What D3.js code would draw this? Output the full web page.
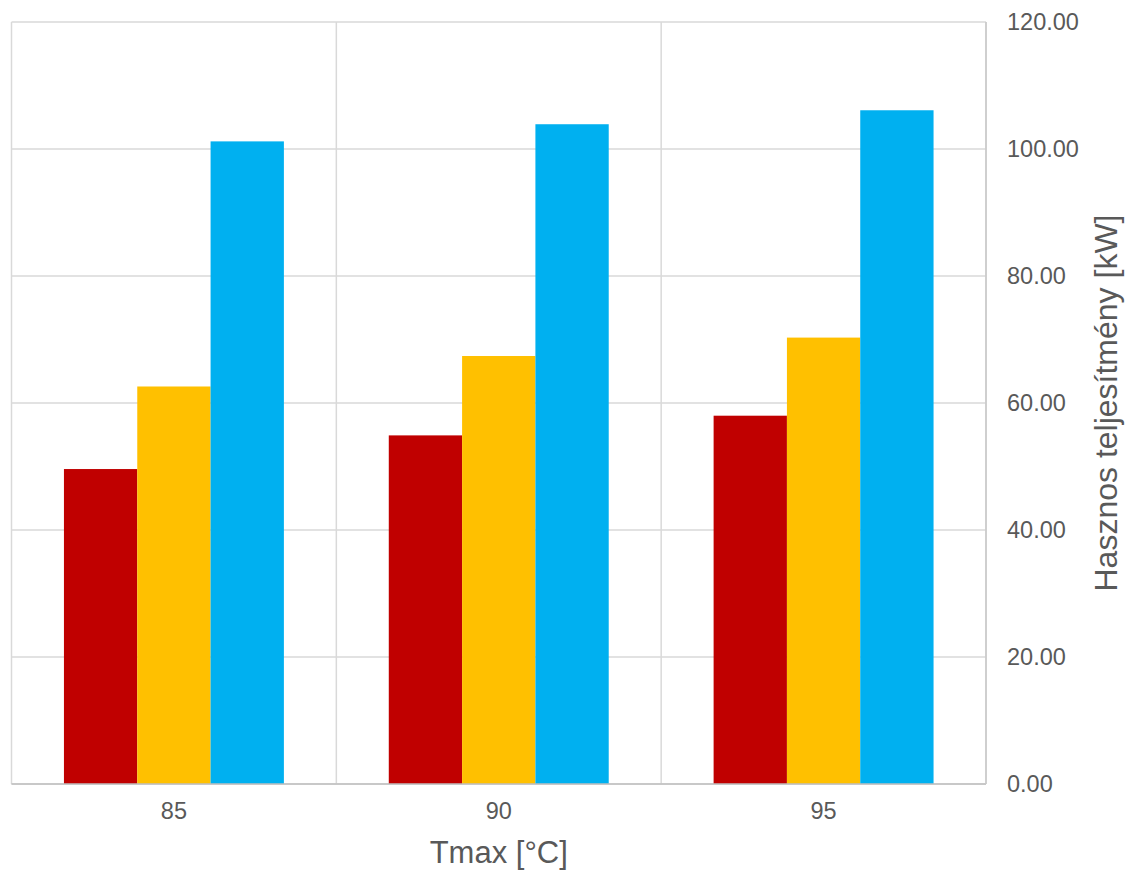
<!DOCTYPE html>
<html>
<head>
<meta charset="utf-8">
<script src="https://cdn.jsdelivr.net/npm/d3@7"></script>
<style>
  body { margin: 0; background: #fff; }
  text { font-family: "Liberation Sans", Arial, sans-serif; fill: #595959; }
</style>
</head>
<body>
<svg id="chart" width="1127" height="871"></svg>
<script>
// categories and series
const categories = ["85", "90", "95"];
const seriesRed = [49.6, 54.9, 58.0];
const seriesYellow = [62.6, 67.4, 70.3];
const seriesBlue = [101.2, 103.9, 106.1];
const yTicks = [0, 20, 40, 60, 80, 100, 120];
const xTitle = "Tmax [°C]";
const yTitle = "Hasznos teljesítmény [kW]";

const colors = ["#C00000", "#FFC000", "#00B0F0"];
const series = [seriesRed, seriesYellow, seriesBlue];

const svg = d3.select("#chart");
const margin = { top: 22, right: 141, bottom: 87, left: 11.5 };
const width = 1127 - margin.left - margin.right;
const height = 871 - margin.top - margin.bottom;

const g = svg.append("g")
  .attr("transform", `translate(${margin.left},${margin.top})`);

const x = d3.scaleBand().domain(categories).range([0, width]);

// bar width relative to the band (Excel-like gap width)
const barW = x.bandwidth() * 0.2257;
const x1 = d3.scaleBand()
  .domain([0, 1, 2])
  .range([(x.bandwidth() - barW * 3) / 2, (x.bandwidth() + barW * 3) / 2]);

const y = d3.scaleLinear().domain([0, 120]).range([height, 0]);

// horizontal gridlines
g.selectAll(".hgrid")
  .data(yTicks)
  .enter()
  .append("line")
  .attr("x1", 0)
  .attr("x2", width)
  .attr("y1", (d) => y(d))
  .attr("y2", (d) => y(d))
  .style("stroke", "#D9D9D9")
  .style("stroke-width", 1.5);

// vertical gridlines at category boundaries
g.selectAll(".vgrid")
  .data(categories.map((c) => x(c)).concat([width]))
  .enter()
  .append("line")
  .attr("x1", (d) => d)
  .attr("x2", (d) => d)
  .attr("y1", 0)
  .attr("y2", height)
  .style("stroke", "#D9D9D9")
  .style("stroke-width", 1.5);

// bars
series.forEach((vals, si) => {
  g.selectAll(".bar" + si)
    .data(vals)
    .enter()
    .append("rect")
    .attr("x", (d, i) => x(categories[i]) + x1(si))
    .attr("y", (d) => y(d))
    .attr("width", barW)
    .attr("height", (d) => y(0) - y(d))
    .style("fill", colors[si]);
});

// bottom axis line and right axis line
g.append("line")
  .attr("x1", 0).attr("x2", width)
  .attr("y1", height).attr("y2", height)
  .style("stroke", "#BFBFBF").style("stroke-width", 1.5);
g.append("line")
  .attr("x1", width).attr("x2", width)
  .attr("y1", 0).attr("y2", height)
  .style("stroke", "#C8C8C8").style("stroke-width", 1.5);

// y axis on the right
const yAxis = d3.axisRight(y)
  .tickValues(yTicks)
  .tickSize(0)
  .tickPadding(21)
  .tickFormat((d) => d3.format(".2f")(d));
const ya = g.append("g")
  .attr("transform", `translate(${width},0)`)
  .call(yAxis);
ya.select(".domain").remove();
ya.selectAll("text")
  .style("font-size", "23.5px")
  .style("fill", "#595959")
  .style("font-family", "Liberation Sans, Arial, sans-serif");

// x axis
const xAxis = d3.axisBottom(x).tickSize(0).tickPadding(18);
const xa = g.append("g")
  .attr("transform", `translate(0,${height})`)
  .call(xAxis);
xa.select(".domain").remove();
xa.selectAll("text")
  .style("font-size", "23.5px")
  .style("fill", "#595959")
  .style("font-family", "Liberation Sans, Arial, sans-serif");

// axis titles
svg.append("text")
  .attr("x", margin.left + width / 2)
  .attr("y", 863)
  .attr("text-anchor", "middle")
  .style("font-size", "31px")
  .text(xTitle);

svg.append("text")
  .attr("transform", `translate(1117,${margin.top + height / 2}) rotate(-90)`)
  .attr("text-anchor", "middle")
  .style("font-size", "32px")
  .text(yTitle);
</script>
</body>
</html>
